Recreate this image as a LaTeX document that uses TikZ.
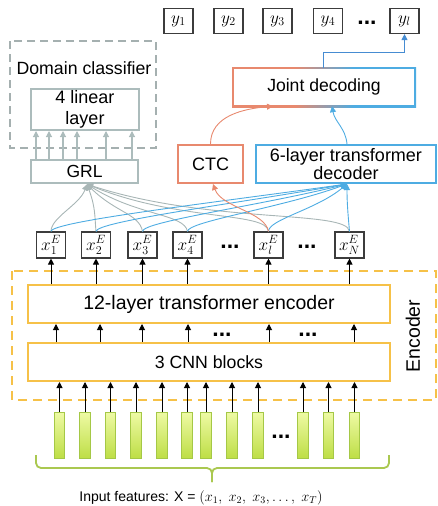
\documentclass[tikz,border=0pt]{standalone}
\usepackage{fontspec}
\setmainfont{Liberation Sans}
\usetikzlibrary{arrows.meta,calc}
\definecolor{gbox}{RGB}{172,188,188}
\definecolor{gdash}{RGB}{165,176,176}
\definecolor{ctcc}{RGB}{232,137,110}
\definecolor{decc}{RGB}{78,172,226}
\definecolor{encc}{RGB}{246,193,72}
\definecolor{dk}{RGB}{60,60,60}
\definecolor{barfillA}{RGB}{238,250,165}
\definecolor{barfillB}{RGB}{190,222,70}
\definecolor{bardraw}{RGB}{165,200,70}
\definecolor{bracec}{RGB}{170,200,80}
\definecolor{curvegray}{RGB}{168,182,182}
\definecolor{arrblue}{RGB}{70,140,210}
\pgfdeclarehorizontalshading{jointshade}{100bp}{color(0bp)=(ctcc); color(42bp)=(ctcc); color(58bp)=(decc); color(100bp)=(decc)}
\tikzset{
  ybox/.style={draw=dk, line width=1.1pt, minimum width=29pt, minimum height=25pt, inner sep=0pt, fill=white, font=\fontsize{17}{17}\selectfont},
  xebox/.style={draw=dk, line width=1.1pt, minimum width=29pt, minimum height=26pt, inner sep=0pt, fill=white, font=\fontsize{17}{17}\selectfont},
  gbx/.style={draw=gbox, line width=2pt, fill=white, inner sep=0pt, align=center, font=\fontsize{18}{21}\selectfont},
  ctcbox/.style={draw=ctcc, line width=2pt, fill=white, inner sep=0pt, align=center, font=\fontsize{18}{18}\selectfont},
  decbox/.style={draw=decc, line width=2pt, fill=white, inner sep=0pt, align=center, font=\fontsize{18}{18}\selectfont},
  encbox/.style={draw=encc, line width=2pt, fill=white, inner sep=0pt, align=center, font=\fontsize{18}{18}\selectfont},
  bar/.style={draw=bardraw, line width=0.6pt, top color=barfillA, bottom color=barfillB, minimum width=10.5pt, minimum height=46pt, inner sep=0pt},
  blk/.style={-{Triangle[length=6pt,width=6pt]}, line width=1pt, draw=black},
  garr/.style={-{Triangle[length=6pt,width=6pt]}, line width=1.1pt, draw=gbox},
  gcurve/.style={-{Triangle[length=6pt,width=6pt]}, line width=0.9pt, draw=curvegray},
  bcurve/.style={-{Triangle[length=6pt,width=6pt]}, line width=0.9pt, draw=decc},
  ocurve/.style={-{Triangle[length=6pt,width=6pt]}, line width=0.9pt, draw=ctcc},
  dotsnode/.style={font=\fontsize{23}{23}\selectfont\bfseries, inner sep=0pt, anchor=base},
}
\begin{document}
\begin{tikzpicture}[x=1pt,y=1pt]
\useasboundingbox (0,0) rectangle (438,-506);

% outputs
\node[ybox] (y1) at (178.5,-21) {$y_1$};
\node[ybox] (y2) at (228.5,-21) {$y_2$};
\node[ybox] (y3) at (277.5,-21) {$y_3$};
\node[ybox] (y4) at (328,-21) {$y_4$};
\node[dotsnode] (ydots) at (367,-24) {...};
\node[ybox] (yl) at (404.5,-21) {$y_l$};

% domain classifier
\draw[gdash, line width=2pt, dash pattern=on 8pt off 5pt] (10,-41) rectangle (156,-148);
\node[font=\fontsize{17.7}{18}\selectfont] (domlabel) at (84,-68) {Domain classifier};
\node[gbx, minimum width=108pt, minimum height=41pt] (lin) at (85,-109.5) {4 linear\\layer};
\node[gbx, minimum width=107pt, minimum height=23.5pt, font=\fontsize{17.5}{18}\selectfont] (grl) at (84.5,-171.5) {GRL};
\foreach \x in {36,49,63,77,106,132}
  \draw[garr] (grl.north -| \x,0) -- (lin.south -| \x,0);

% decoders
\node[ctcbox, minimum width=65pt, minimum height=38pt] (ctc) at (210.5,-164) {CTC};
\node[decbox, minimum width=180pt, minimum height=38pt] (dec) at (346,-164) {6-layer transformer\\decoder};
\shade[shading=jointshade] (232,-67) rectangle (416,-107);
\fill[white] (234,-69) rectangle (414,-105);
\node[minimum width=182pt, minimum height=38pt, inner sep=0pt, font=\fontsize{17.6}{18}\selectfont] (joint) at (324,-87) {Joint decoding};

\draw[-{Triangle[length=6pt,width=6pt]}, line width=1pt, draw=arrblue] (joint.north -| 323,0) |- ([yshift=-18pt]yl.south) -- (yl.south);
\draw[ocurve] (ctc.north) to[out=90,in=185] (joint.south -| 273,0);
\draw[bcurve] (dec.north -| 347,0) to[out=95,in=-80] (joint.south -| 332,0);

% encoder outputs
\node[xebox] (e1) at (51,-245) {$x_1^E$};
\node[xebox] (e2) at (96,-245) {$x_2^E$};
\node[xebox] (e3) at (142.5,-245) {$x_3^E$};
\node[xebox] (e4) at (187.5,-245) {$x_4^E$};
\node[dotsnode] (edots1) at (230,-248) {...};
\node[xebox] (el) at (268.5,-245) {$x_l^E$};
\node[dotsnode] (edots2) at (307,-248) {...};
\node[xebox] (eN) at (349.5,-245) {$x_N^E$};

% gray curves to GRL
\coordinate (gtip) at (grl.south -| 87,0);
\draw[gcurve] (e1.north) to[out=90,in=-110,out distance=14pt,in distance=22pt] (gtip);
\draw[gcurve] (e2.north) to[out=95,in=-70,out distance=16pt,in distance=25pt] (gtip);
\draw[gcurve] (e3.north) to[out=100,in=-45,out distance=18pt,in distance=40pt] (gtip);
\draw[gcurve] (e4.north) to[out=100,in=-32,out distance=18pt,in distance=60pt] (gtip);
\draw[gcurve] (el.north) to[out=95,in=-22,out distance=20pt,in distance=100pt] (gtip);
\draw[gcurve] (eN.north) to[out=95,in=-18,out distance=22pt,in distance=130pt] (gtip);

% blue curves to decoder
\coordinate (btip) at (dec.south -| 347,0);
\draw[bcurve] (e1.north) to[out=90,in=-172,out distance=10pt,in distance=130pt] (btip);
\draw[bcurve] (e2.north) to[out=90,in=-170,out distance=10pt,in distance=110pt] (btip);
\draw[bcurve] (e3.north) to[out=90,in=-166,out distance=10pt,in distance=90pt] (btip);
\draw[bcurve] (e4.north) to[out=90,in=-160,out distance=10pt,in distance=70pt] (btip);
\draw[bcurve] (el.north) to[out=90,in=-140,out distance=12pt,in distance=40pt] (btip);
\draw[bcurve] (eN.north) to[out=95,in=-90] (btip);

% orange curve to CTC
\draw[ocurve] (el.north) to[out=100,in=-70,out distance=20pt,in distance=25pt] (ctc.south -| 213,0);

% encoder
\draw[encc, line width=2pt, dash pattern=on 9pt off 6pt] (12,-271) rectangle (436,-400);
\node[rotate=90, font=\fontsize{19.5}{20}\selectfont] (enclabel) at (413,-336) {Encoder};
\node[encbox, minimum width=362pt, minimum height=38pt, font=\fontsize{19.5}{20}\selectfont] (enc) at (209,-304) {12-layer transformer encoder};
\node[encbox, minimum width=362pt, minimum height=38pt, font=\fontsize{17.7}{18}\selectfont] (cnn) at (209,-362) {3 CNN blocks};
\foreach \n in {e1,e2,e3,e4,el,eN}
  \draw[blk] (enc.north -| \n) -- (\n.south);
\foreach \x in {56,100,142,188,269,354}
  \draw[blk] (cnn.north -| \x,0) -- (enc.south -| \x,0);
\node[dotsnode] (cdots1) at (222,-336) {...};
\node[dotsnode] (cdots2) at (308,-336) {...};

% input bars
\foreach \x [count=\i] in {59.5,85,110.5,136,162,187,206,232,258,303,328.5,354.5} {
  \node[bar] (b\i) at (\x,-435) {};
  \draw[blk] (b\i.north) -- (cnn.south -| b\i.north);
}
\node[dotsnode] (bdots) at (281,-438) {...};

% brace
\draw[bracec, line width=1.8pt, rounded corners=5pt] (36,-455) -- (36,-468) -- (212,-468) -- (212,-482);
\draw[bracec, line width=1.8pt, rounded corners=5pt] (389,-455) -- (389,-468) -- (212,-468) -- (212,-482);
\node[font=\fontsize{14}{14}\selectfont] (inp) at (201,-498) {Input features: X = $(x_1,\ x_2,\ x_3, \ldots,\ x_T)$};
\end{tikzpicture}
\end{document}
